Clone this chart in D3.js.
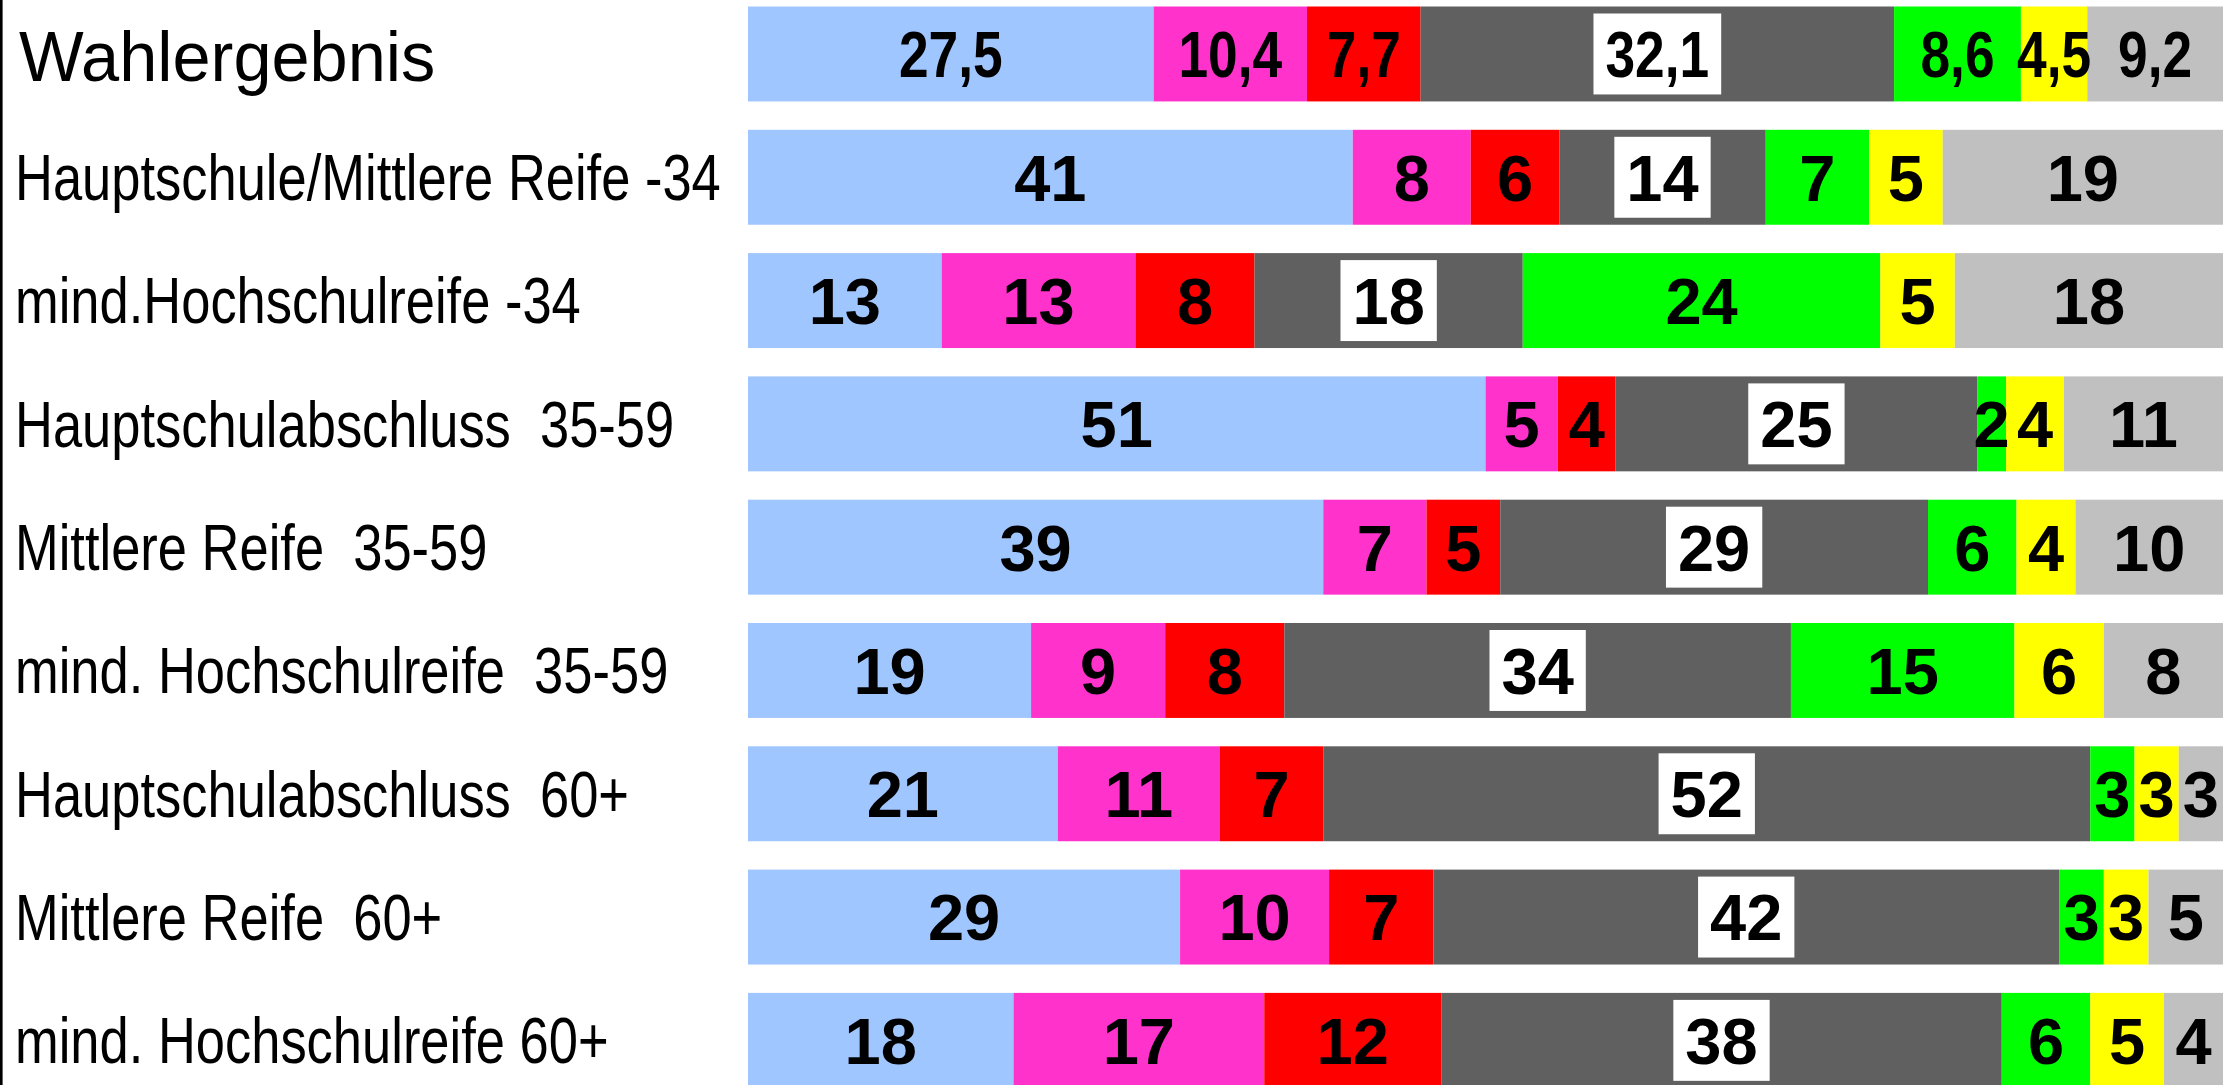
<!DOCTYPE html>
<html>
<head>
<meta charset="utf-8">
<script src="https://cdn.jsdelivr.net/npm/d3@7"></script>
<style>
  html, body { margin: 0; padding: 0; background: #fff; overflow: hidden; }
  text { font-family: "Liberation Sans", Arial, sans-serif; white-space: pre; }
</style>
</head>
<body>
<div class="chart"></div>
<script>
// Gruppen (Zeilen)
var rowLabels = [
    "Wahlergebnis",
    "Hauptschule/Mittlere Reife -34",
    "mind.Hochschulreife -34",
    "Hauptschulabschluss  35-59",
    "Mittlere Reife  35-59",
    "mind. Hochschulreife  35-59",
    "Hauptschulabschluss  60+",
    "Mittlere Reife  60+",
    "mind. Hochschulreife 60+"
];

// Parteien (Segmente, in Reihenfolge)
var parties = ["AfD", "Linke", "SPD", "CDU", "Grüne", "FDP", "Sonstige"];
var partyColors = ["#a0c6ff", "#ff33cc", "#ff0000", "#606060", "#00ff00", "#ffff00", "#c0c0c0"];

// Werte pro Partei, eine Zahl je Zeile
var afd      = [27.5, 41, 13, 51, 39, 19, 21, 29, 18];
var linke    = [10.4,  8, 13,  5,  7,  9, 11, 10, 17];
var spd      = [ 7.7,  6,  8,  4,  5,  8,  7,  7, 12];
var cdu      = [32.1, 14, 18, 25, 29, 34, 52, 42, 38];
var gruene   = [ 8.6,  7, 24,  2,  6, 15,  3,  3,  6];
var fdp      = [ 4.5,  5,  5,  4,  4,  6,  3,  3,  5];
var sonstige = [ 9.2, 19, 18, 11, 10,  8,  3,  5,  4];

var series = [afd, linke, spd, cdu, gruene, fdp, sonstige];

var width = 2225, height = 1085;
var narrow = 0.82;   // Arial Narrow look

var table = rowLabels.map(function(lab, i) {
    var row = { label: lab, idx: i };
    parties.forEach(function(p, k) { row[p] = series[k][i]; });
    return row;
});

// each row is scaled to the full width
var stack = d3.stack().keys(parties).offset(d3.stackOffsetExpand);
var layers = stack(table);

var x = d3.scaleLinear().domain([0, 1]).range([748, 2223]);
var y = d3.scaleBand()
    .domain(d3.range(rowLabels.length))
    .range([6.5, 6.5 + 123.3 * (rowLabels.length - 0.23)])
    .paddingInner(0.23)
    .paddingOuter(0);

var svg = d3.select(".chart").append("svg")
    .attr("width", width)
    .attr("height", height);

svg.append("rect")
    .attr("x", 0).attr("y", 0)
    .attr("width", width).attr("height", height)
    .style("fill", "#fff");

// left frame line
svg.append("rect")
    .attr("x", 0).attr("y", 0)
    .attr("width", 2.6).attr("height", height)
    .style("fill", "#000");

var layer = svg.selectAll(".layer")
    .data(layers)
    .enter().append("g")
    .attr("class", "layer")
    .style("fill", function(d, i) { return partyColors[i]; });

layer.selectAll("rect")
    .data(function(d) { return d; })
    .enter().append("rect")
    .attr("x", function(d) { return x(d[0]); })
    .attr("y", function(d) { return y(d.data.idx); })
    .attr("width", function(d) { return x(d[1]) - x(d[0]); })
    .attr("height", y.bandwidth());

// value labels
var fmt = function(v) { return String(v).replace(".", ","); };

layers.forEach(function(lay, k) {
    var g = svg.append("g").attr("class", "values");
    lay.forEach(function(d) {
        var i = d.data.idx;
        var cx = (x(d[0]) + x(d[1])) / 2;
        var cy = y(i) + y.bandwidth() / 2;
        var sx = i === 0 ? narrow : 1;
        var cell = g.append("g")
            .attr("transform", "translate(" + cx + "," + cy + ")");
        var boxG = cell.append("g");
        var t = cell.append("g")
            .attr("transform", "scale(" + sx + ",1)")
            .append("text")
            .attr("text-anchor", "middle")
            .attr("dy", "0.36em")
            .style("font-size", "65px")
            .style("font-weight", "bold")
            .style("fill", "#000")
            .text(fmt(d.data[parties[k]]));
        if (parties[k] === "CDU") {
            var bw = t.node().getBBox().width * sx + 24;
            var bh = y.bandwidth() - 14;
            boxG.append("rect")
                .attr("x", -bw / 2)
                .attr("y", -bh / 2)
                .attr("width", bw)
                .attr("height", bh)
                .style("fill", "#fff");
        }
    });
});

// row labels
svg.selectAll(".row-label")
    .data(rowLabels)
    .enter().append("text")
    .attr("class", "row-label")
    .attr("transform", function(d, i) {
        var cy = y(i) + y.bandwidth() / 2;
        if (i === 0) return "translate(19," + (cy + 2) + ") scale(0.965,1)";
        return "translate(15," + cy + ") scale(" + narrow + ",1)";
    })
    .attr("dy", "0.358em")
    .style("font-size", function(d, i) { return i === 0 ? "71px" : "64px"; })
    .style("fill", "#000")
    .text(function(d) { return d; });
</script>
</body>
</html>
